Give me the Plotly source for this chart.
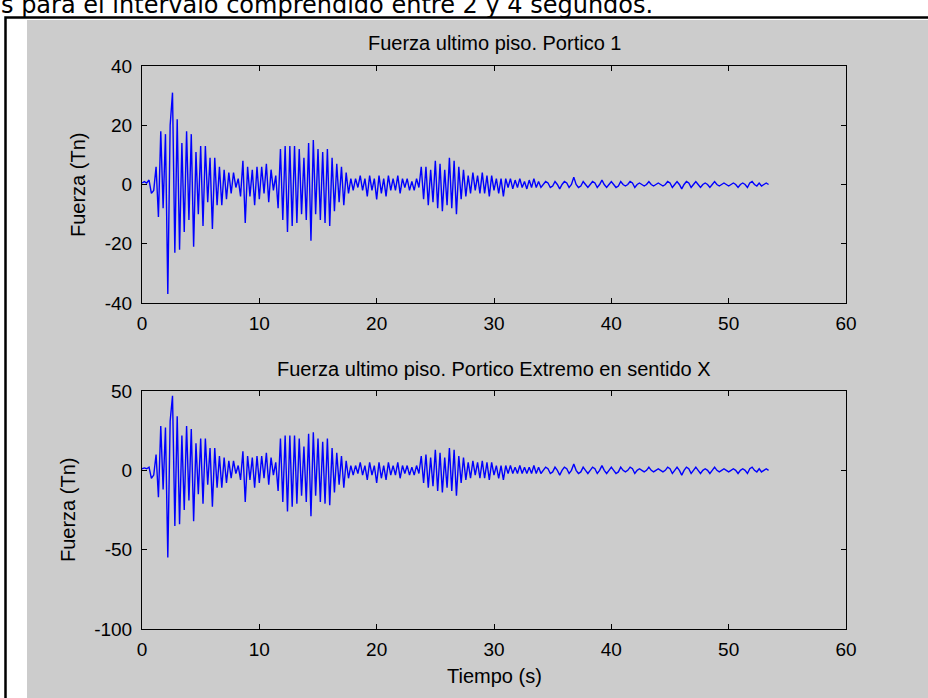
import numpy as np
import plotly.graph_objects as go

# ---------------- data ----------------
DT = 0.2  # sampling step of the read-off series (s)

fuerza_portico1 = [
    0.5, 1, 0.5, 1.5, -3, -2, 6, -11, 18, -8,
    17, -37, 20, 31, -23, 22, -22, 14, -16, 18,
    -12, 17, -21, 11, -10, 13, -14, 13, -6, 9,
    -15, 9, -7, 6, -7, 5, -5, 4, -3, 4,
    -1, 2, -4, 8, -13, 6, -4, 5, -7, 6,
    -5, 6, -3, 7, -6, 5, -2, 3, -8, 12,
    -12, 13, -16, 13, -14, 13, -13, 12, -10, 9,
    -12, 14, -19, 15, -10, 12, -12, 11, -13, 12,
    -14, 9, -9, 7, -6, 6, -7, 4, -3, 2,
    -2, 2, -1, 3, -2, 2, -4, 3, -2, 2,
    -5, 3, -3, 2, -4, 3, -2, 2, -2, 3,
    -3, 2, -1, 2, -2, 1, -2, 2, -1, 6,
    -5, 6, -7, 5, -6, 8, -8, 7, -9, 5,
    -7, 9, -8, 8, -10, 6, -5, 5, -4, 3,
    -3, 4, -2, 3, -3, 4, -3, 3, -4, 3,
    -2, 2, -3, 2, -4, 2, -1, 2, -1.5, 1.5,
    -1, 2, -1, 1, -1.5, 1.5, -1, 2, -1, 1,
    -1, 0, 1, 0.5, -1, -0.5, 1, 0, -1.5, 0,
    1, 0.5, -1, 0, 2.5, 0, -1, -0.5, 1, 0,
    -1, 0, 1, 0.5, -1, 0, 1.5, 0, -1, 0,
    1, 0, -1, -0.5, 1, 0, -0.5, 0, 1, 0.5,
    -1, 0, 0.5, 0, -0.5, 0, 1, 0, -0.5, 0,
    0.5, 0, -0.5, 0, 1, 0.5, -1, 0, 1, 0,
    -1.5, 0, 1, 0.5, -1, 0, 1, 0, -1, 0,
    0.5, 0, -1, 0, 1, 0, -0.5, 0, 0.5, 0,
    -0.5, 0, 0.5, 0, -1, 0, 0.5, 0, -1, 0.5,
    1, 0, -0.5, 0.5, -0.5, 0, 0.5, 0,
]

fuerza_extremo_x = [
    1, 1.5, 1, 2, -5, -3, 10, -17, 28, -12,
    27, -55, 31, 47, -35, 34, -34, 22, -25, 28,
    -19, 26, -32, 17, -15, 20, -21, 20, -9, 14,
    -23, 14, -11, 9, -11, 8, -8, 6, -5, 6,
    -2, 3, -6, 12, -20, 9, -6, 8, -11, 9,
    -8, 9, -5, 11, -9, 8, -3, 5, -13, 20,
    -20, 22, -26, 22, -23, 22, -21, 20, -16, 15,
    -20, 23, -29, 24, -16, 20, -20, 18, -21, 20,
    -22, 14, -14, 11, -9, 9, -11, 6, -5, 3,
    -3, 3, -2, 5, -3, 3, -6, 5, -3, 3,
    -8, 5, -5, 3, -6, 5, -3, 3, -3, 5,
    -5, 3, -2, 3, -3, 2, -3, 3, -2, 9,
    -8, 10, -11, 8, -10, 13, -13, 11, -14, 8,
    -11, 14, -13, 13, -16, 9, -8, 8, -6, 5,
    -5, 6, -3, 5, -5, 6, -5, 5, -6, 5,
    -3, 3, -5, 3, -6, 3, -2, 3, -2, 2,
    -2, 3, -2, 2, -2, 2, -2, 3, -2, 2,
    -2, 0, 2, 1, -2, -1, 2, 0, -3, 0,
    2, 1, -2, 0, 4, 0, -2, -1, 2, 0,
    -2, 0, 2, 1, -2, 0, 3, 0, -2, 0,
    2, 0, -2, -1, 2, 0, -1, 0, 2, 1,
    -2, 0, 1, 0, -1, 0, 2, 0, -1, 0,
    1, 0, -1, 0, 2, 1, -2, 0, 2, 0,
    -3, 0, 2, 1, -2, 0, 2, 0, -2, 0,
    1, 0, -2, 0, 2, 0, -1, 0, 1, 0,
    -1, 0, 1, 0, -2, 0, 1, 0, -2, 1,
    2, 0, -1, 1, -1, 0, 1, 0,
]

tiempo = np.round(np.arange(len(fuerza_portico1)) * DT, 2)

x_ticks = [0, 10, 20, 30, 40, 50, 60]
y1_ticks = [-40, -20, 0, 20, 40]
y2_ticks = [-100, -50, 0, 50]

titulo1 = "Fuerza ultimo piso. Portico 1"
titulo2 = "Fuerza ultimo piso. Portico Extremo en sentido X"
ylabel = "Fuerza (Tn)"
xlabel = "Tiempo (s)"
texto_superior = "s para el intervalo comprendido entre 2 y 4 segundos."

# ---------------- layout helpers (pixel -> paper) ----------------
W, H = 928, 698
def px(x):
    return x / W
def py(y):
    return 1 - y / H

FONT = "Liberation Sans, Arial, sans-serif"
BLUE = "#0000ff"

fig = go.Figure()
fig.add_trace(go.Scatter(x=tiempo, y=fuerza_portico1, mode="lines",
                         line=dict(color=BLUE, width=1.4), xaxis="x", yaxis="y",
                         showlegend=False, hoverinfo="skip"))
fig.add_trace(go.Scatter(x=tiempo, y=fuerza_extremo_x, mode="lines",
                         line=dict(color=BLUE, width=1.4), xaxis="x2", yaxis="y2",
                         showlegend=False, hoverinfo="skip"))

axis_common = dict(showline=True, linecolor="black", linewidth=1, mirror="ticks",
                   ticks="inside", ticklen=5, tickcolor="black", tickwidth=1,
                   showgrid=False, zeroline=False, automargin=False,
                   tickfont=dict(family=FONT, size=19, color="black"))

def lbl(vals):
    return [str(v) for v in vals]

x_dom = [px(142), px(846)]
fig.update_layout(
    template="none",
    width=W, height=H,
    margin=dict(l=0, r=0, t=0, b=0, pad=0, autoexpand=False),
    paper_bgcolor="white",
    plot_bgcolor="white",
    xaxis=dict(domain=x_dom, range=[0, 60], tickvals=x_ticks, ticktext=lbl(x_ticks),
               anchor="y", ticklabelstandoff=3, **axis_common),
    yaxis=dict(domain=[py(303), py(66)], range=[-40, 40], tickvals=y1_ticks,
               ticktext=lbl(y1_ticks), anchor="x", ticklabelstandoff=5, **axis_common),
    xaxis2=dict(domain=x_dom, range=[0, 60], tickvals=x_ticks, ticktext=lbl(x_ticks),
                anchor="y2", ticklabelstandoff=3, **axis_common),
    yaxis2=dict(domain=[py(629), py(391)], range=[-100, 50], tickvals=y2_ticks,
                ticktext=lbl(y2_ticks), anchor="x2", ticklabelstandoff=5, **axis_common),
    shapes=[
        # grey figure background
        dict(type="rect", xref="paper", yref="paper", layer="below",
             x0=px(27), x1=px(940), y0=py(710), y1=py(20),
             fillcolor="#cccccc", line=dict(width=0)),
        # black frame of the embedded picture
        dict(type="rect", xref="paper", yref="paper", layer="below",
             x0=px(5.5), x1=px(960), y0=py(720), y1=py(17.5),
             fillcolor="rgba(0,0,0,0)", line=dict(color="black", width=2.5)),
    ],
    annotations=[
        dict(text=texto_superior, xref="paper", yref="paper", x=px(-1), y=py(5),
             xanchor="left", yanchor="middle", showarrow=False,
             font=dict(family="DejaVu Sans", size=24, color="black")),
        dict(text=titulo1, xref="paper", yref="paper", x=px(494), y=py(43),
             xanchor="center", yanchor="middle", showarrow=False,
             font=dict(family=FONT, size=20, color="black")),
        dict(text=titulo2, xref="paper", yref="paper", x=px(494), y=py(369),
             xanchor="center", yanchor="middle", showarrow=False,
             font=dict(family=FONT, size=20, color="black")),
        dict(text=ylabel, xref="paper", yref="paper", x=px(78), y=py(185),
             xanchor="center", yanchor="middle", textangle=-90, showarrow=False,
             font=dict(family=FONT, size=20, color="black")),
        dict(text=ylabel, xref="paper", yref="paper", x=px(68), y=py(510),
             xanchor="center", yanchor="middle", textangle=-90, showarrow=False,
             font=dict(family=FONT, size=20, color="black")),
        dict(text=xlabel, xref="paper", yref="paper", x=px(494), y=py(676),
             xanchor="center", yanchor="middle", showarrow=False,
             font=dict(family=FONT, size=20, color="black")),
    ],
)

fig.write_html("out.html",
               config={"displayModeBar": False, "staticPlot": True},
               post_script="document.body.style.margin='0';document.body.style.overflow='hidden';")
